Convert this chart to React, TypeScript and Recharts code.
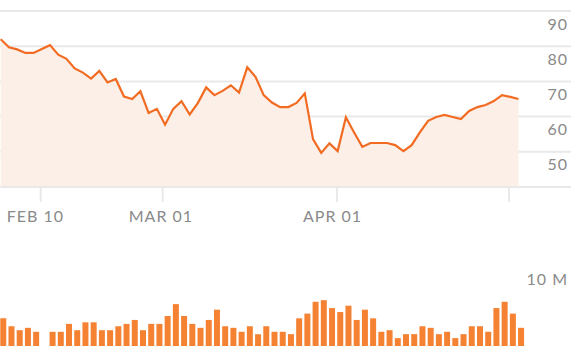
import { AreaChart, Area, BarChart, Bar, XAxis, YAxis, CartesianGrid } from 'recharts'

// closing price per trading day
const prices = [
  82.0, 79.7, 79.1, 78.1, 78.1, 79.2, 80.3, 77.6, 76.4, 73.7, 72.5, 70.8, 73.0, 69.7, 70.7, 65.7,
  65.0, 67.2, 61.0, 62.2, 57.7, 62.2, 64.4, 60.6, 63.9, 68.3, 66.1, 67.3, 68.9, 66.8, 74.0, 71.3,
  66.1, 64.0, 62.7, 62.7, 63.9, 66.6, 53.6, 49.7, 52.4, 50.2, 59.8, 55.5, 51.4, 52.5, 52.5, 52.5,
  51.9, 50.2, 51.9, 55.5, 58.8, 59.9, 60.5, 59.9, 59.3, 61.6, 62.7, 63.3, 64.4, 66.1, 65.6, 65.0,
]

// volume in millions
const volumes = [
  3.5, 2.5, 2.0, 2.3, 1.8, 0, 1.8, 1.8, 2.8, 2.0, 3.0, 3.0, 2.0, 2.0, 2.5, 2.8,
  3.3, 2.0, 2.8, 2.8, 3.8, 5.3, 3.8, 2.8, 2.3, 3.3, 4.6, 2.5, 2.3, 1.8, 2.5, 1.5,
  2.5, 1.8, 1.8, 1.5, 3.5, 4.1, 5.6, 5.8, 4.8, 4.3, 5.1, 3.3, 4.6, 3.5, 1.8, 2.0,
  1.0, 1.5, 1.5, 2.5, 2.3, 1.5, 1.8, 1.0, 1.5, 2.5, 2.5, 1.8, 4.8, 5.6, 4.1, 2.3,
]

const dateTicks = [4.87, 19.71, 40.92, 61.84]
const dateLabels = ['FEB 10', 'MAR 01', 'APR 01', '']
const priceTicks = [40, 50, 60, 70, 80, 90]
const volumeTicks = [10]

const data = prices.map((p, i) => ({ i, price: p, volume: volumes[i] }))

const W = 572
const xDomain: [number, number] = [-0.085, 69.39]
const barDomain: [number, number] = [-0.41, 69.06]

const LINE = '#f26b22'
const FILL = '#fcefe7'
const BAR = '#f58233'
const GRID = '#e9e9e9'
const TEXT = '#8a8a8a'
const FONT = 'Lato, "Open Sans", sans-serif'

const textStyle = { fill: TEXT, fontSize: 16, fontFamily: FONT, letterSpacing: 1 }

function PriceTick(props: any) {
  const { y, payload } = props
  if (payload.value === 40) return <g />
  return (
    <text x={568} y={y + 12} textAnchor="end" dominantBaseline="central" style={textStyle}>
      {payload.value}
    </text>
  )
}

function DateTick(props: any) {
  const { x, payload } = props
  const label = dateLabels[dateTicks.indexOf(payload.value)]
  if (!label) return <g />
  return (
    <text x={x - 34} y={215} textAnchor="start" dominantBaseline="central" style={textStyle}>
      {label}
    </text>
  )
}

function VolTick(props: any) {
  const { y, payload } = props
  return (
    <text x={568} y={y + 11.5} textAnchor="end" dominantBaseline="central" style={textStyle}>
      {payload.value} M
    </text>
  )
}

export default function App() {
  return (
    <div style={{ position: 'absolute', left: 0, top: 0, width: W, height: 356, background: '#fff', overflow: 'hidden' }}>
      <AreaChart width={W} height={240} data={data} margin={{ top: 11, right: 0, bottom: 0, left: 0 }}>
        <CartesianGrid vertical={false} stroke={GRID} strokeWidth={2} />
        <XAxis
          dataKey="i"
          type="number"
          domain={xDomain}
          allowDataOverflow
          ticks={dateTicks}
          tick={<DateTick />}
          tickSize={15}
          tickLine={{ stroke: GRID, strokeWidth: 2 }}
          axisLine={{ stroke: GRID, strokeWidth: 2 }}
          height={53}
          interval={0}
        />
        <YAxis
          orientation="right"
          width={1}
          domain={[40, 90]}
          ticks={priceTicks}
          tick={<PriceTick />}
          axisLine={false}
          tickLine={false}
          interval={0}
        />
        <Area
          type="linear"
          dataKey="price"
          stroke={LINE}
          strokeWidth={2.2}
          fill={FILL}
          fillOpacity={1}
          dot={false}
          activeDot={false}
          isAnimationActive={false}
        />
      </AreaChart>
      <BarChart width={W} height={116} data={data} margin={{ top: 27, right: 0, bottom: 10, left: 0 }}>
        <XAxis dataKey="i" type="number" domain={barDomain} allowDataOverflow hide />
        <YAxis
          orientation="right"
          width={1}
          domain={[0, 10]}
          ticks={volumeTicks}
          tick={<VolTick />}
          axisLine={false}
          tickLine={false}
          interval={0}
        />
        <Bar dataKey="volume" fill={BAR} barSize={6} isAnimationActive={false} />
      </BarChart>
    </div>
  )
}
